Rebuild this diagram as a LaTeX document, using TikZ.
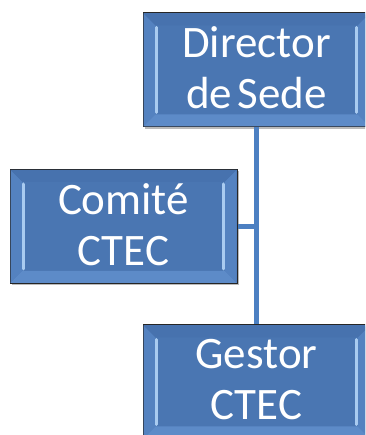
\documentclass[tikz,border=0pt]{standalone}
\usepackage{fontspec}
\setmainfont{Carlito}
\usetikzlibrary{calc,shadows}
\definecolor{boxblue}{HTML}{4A76B2}
\definecolor{bevlight}{HTML}{5482C0}
\definecolor{bevtop}{HTML}{4772AE}
\definecolor{bevbot}{HTML}{5D8BC8}
\definecolor{hilite}{HTML}{A9CBF0}
\definecolor{linkblue}{HTML}{4C80C2}
\definecolor{edge}{HTML}{262626}
\tikzset{
  orgbox/.style={rectangle, fill=boxblue, draw=edge, line width=1pt,
    minimum width=227pt, minimum height=114pt, inner sep=0pt,
    drop shadow={shadow xshift=2pt, shadow yshift=-2pt, fill=black!45, opacity=0.6}},
  boxtext/.style={text=white, align=center, font=\fontsize{45}{51}\selectfont},
  link/.style={draw=linkblue, line width=5pt}
}
\newcommand\bevelbox[1]{%
  \fill[bevlight] ($(#1.north west)+(1pt,-1pt)$) -- ($(#1.north west)+(13pt,-13pt)$) -- ($(#1.south west)+(13pt,13pt)$) -- ($(#1.south west)+(1pt,1pt)$) -- cycle;
  \fill[bevlight] ($(#1.north east)+(-1pt,-1pt)$) -- ($(#1.north east)+(-13pt,-13pt)$) -- ($(#1.south east)+(-13pt,13pt)$) -- ($(#1.south east)+(-1pt,1pt)$) -- cycle;
  \fill[bevtop] ($(#1.north west)+(1pt,-1pt)$) -- ($(#1.north east)+(-1pt,-1pt)$) -- ($(#1.north east)+(-13pt,-13pt)$) -- ($(#1.north west)+(13pt,-13pt)$) -- cycle;
  \fill[bevbot] ($(#1.south west)+(1pt,1pt)$) -- ($(#1.south east)+(-1pt,1pt)$) -- ($(#1.south east)+(-13pt,13pt)$) -- ($(#1.south west)+(13pt,13pt)$) -- cycle;
  \draw[hilite, line width=3pt, line cap=round] ($(#1.north west)+(14pt,-15pt)$) -- ($(#1.south west)+(14pt,15pt)$);
  \draw[hilite, line width=3pt, line cap=round] ($(#1.north east)+(-14pt,-15pt)$) -- ($(#1.south east)+(-14pt,15pt)$);
}
\begin{document}
\begin{tikzpicture}[x=1pt,y=1pt]
\useasboundingbox (0,0) rectangle (365,435);
\begin{scope}
\clip (0,0) rectangle (365,435);
\node[orgbox] (dir) at (256.5,365) {};
\bevelbox{dir}
\node[boxtext] (dirt) at ($(dir.center)+(0,2)$) {Director\\de\hspace{0.12em}Sede};
\node[orgbox] (com) at (123.5,208.5) {};
\bevelbox{com}
\node[boxtext] (comt) at ($(com.center)+(0,2)$) {Comité\\CTEC};
\node[orgbox] (ges) at (256.5,53) {};
\bevelbox{ges}
\node[boxtext] (gest) at ($(ges.center)+(0,2)$) {Gestor\\CTEC};
\coordinate (junc) at (com.east -| dir.south);
\draw[link] (dir.south) -- (ges.north);
\draw[link] (com.east) -- (junc);
\end{scope}
\end{tikzpicture}
\end{document}
